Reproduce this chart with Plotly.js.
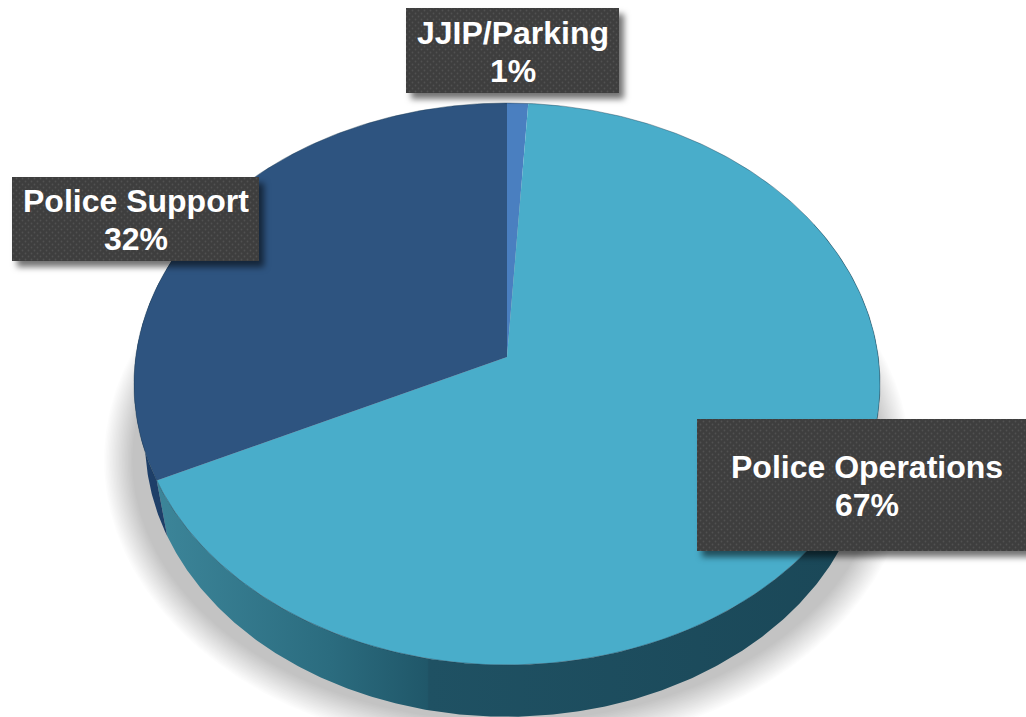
<!DOCTYPE html>
<html>
<head>
<meta charset="utf-8">
<script src="https://cdn.plot.ly/plotly-3.0.1.min.js"></script>
<style>
  html, body { margin: 0; padding: 0; background: #fff; overflow: hidden; }
  #chart { width: 1026px; height: 717px; }
  #defs { position: absolute; width: 0; height: 0; }
  /* dotted callout boxes with a drop shadow */
  .shapelayer path[data-index="0"],
  .shapelayer path[data-index="1"],
  .shapelayer path[data-index="2"] {
    fill: url(#dots) !important;
    filter: drop-shadow(5px 6px 3px rgba(0,0,0,0.55));
  }
</style>
</head>
<body>
<svg id="defs"><defs>
  <pattern id="dots" width="6" height="6" patternUnits="userSpaceOnUse">
    <rect width="6" height="6" fill="#3e3e3e"></rect>
    <circle cx="1.5" cy="1.5" r="0.9" fill="#515151"></circle>
    <circle cx="4.5" cy="4.5" r="0.9" fill="#515151"></circle>
  </pattern>
</defs></svg>
<div id="chart"></div>
<script>
// Budget shares, clockwise from twelve o'clock
const categories = ['JJIP/Parking', 'Police Operations', 'Police Support'];
const shares = [1, 67, 32];
const faceColors = ['#4a7fc0', '#49adca', '#2e5480'];

// Pie geometry in screen units: perspective projection of a tilted disc
const W = 1026, H = 717;
const top_ = { cx: 507, cy: 357, q: 371.3, p: 278.4, k: 0.096 };
const bottom = { cx: 507, cy: 415, q: 360.2, p: 272.8, k: 0.096 };

function project(disc, deg) {
  const t = deg * Math.PI / 180;
  const u = Math.sin(t), v = Math.cos(t), d = 1 + disc.k * v;
  return [disc.cx + disc.q * u / d, disc.cy - disc.p * v / d];
}
function arc(disc, from, to) {
  const n = Math.max(2, Math.ceil(Math.abs(to - from) * 2)), pts = [];
  for (let i = 0; i <= n; i++) pts.push(project(disc, from + (to - from) * i / n));
  return pts;
}
function outline(pts, style) {
  return Object.assign({
    type: 'scatter', mode: 'lines', hoverinfo: 'skip', showlegend: false,
    x: pts.map(p => p[0]), y: pts.map(p => p[1]), line: { width: 0 }
  }, style);
}

const total = shares.reduce((a, b) => a + b, 0);
const starts = [];
let running = 0;
shares.forEach(s => { starts.push(running / total * 360); running += s; });
const opsEnd = starts[2];

const traces = [];

// Floor shadow: stacked translucent ellipses give the soft falloff
const shadowLayers = 20;
for (let i = 0; i < shadowLayers; i++) {
  const s = i / (shadowLayers - 1);
  const disc = { cx: 507, cy: 460, q: 375 + 28 * s, p: 262 + 30 * s, k: 0 };
  traces.push(outline(arc(disc, 0, 360), { fill: 'toself', fillcolor: 'rgba(0,0,0,0.0135)' }));
}

// Side wall: outer edge of the top disc, back along the lower disc
function wall(from, to, style) {
  const pts = arc(top_, from, to).concat(arc(bottom, to, from));
  pts.push(pts[0]);
  return outline(pts, Object.assign({ fill: 'toself' }, style));
}
traces.push(wall(60, opsEnd, {
  fillgradient: {
    type: 'horizontal', start: 158, stop: 880,
    colorscale: [[0, '#3c8599'], [0.238, '#2b6c7f'], [0.373, '#205769'], [0.375, '#1f5163'], [1, '#1a4757']]
  }
}));
traces.push(wall(opsEnd, 300, { fillcolor: '#1e3f68' }));

// Top face of each slice
categories.forEach((name, i) => {
  const to = starts[i] + shares[i] / total * 360;
  const pts = [[top_.cx, top_.cy]].concat(arc(top_, starts[i], to));
  pts.push(pts[0]);
  traces.push(outline(pts, {
    fill: 'toself', name: name, fillcolor: faceColors[i],
    hoverinfo: 'text', text: name + ': ' + shares[i] + '%'
  }));
});

// Fine rim line round the top face
traces.push(outline(arc(top_, 0, 360), { line: { width: 0.8, color: 'rgba(30,60,80,0.5)' } }));

// Callout boxes and their text positions
const boxes = [
  { x0: 406, x1: 619, y0: 8, y1: 93, tx: 512.5, ty: 33 },
  { x0: 697, x1: 1037, y0: 419, y1: 551, tx: 867, ty: 467 },
  { x0: 12, x1: 259, y0: 177, y1: 261, tx: 135.5, ty: 201 }
];
const shapes = boxes.map(b => ({
  type: 'rect', layer: 'above', xref: 'x', yref: 'y',
  x0: b.x0, x1: b.x1, y0: b.y0, y1: b.y1,
  fillcolor: '#3e3e3e', line: { width: 0 }
}));

const labelFont = { family: '"Liberation Sans", Arial, sans-serif', size: 32, color: '#ffffff', weight: 700 };
const annotations = [];
categories.forEach((name, i) => {
  const b = boxes[i];
  annotations.push({ xref: 'x', yref: 'y', x: b.tx, y: b.ty, text: name, showarrow: false, font: labelFont, xanchor: 'center', yanchor: 'middle' });
  annotations.push({ xref: 'x', yref: 'y', x: b.tx, y: b.ty + 38, text: shares[i] + '%', showarrow: false, font: labelFont, xanchor: 'center', yanchor: 'middle' });
});

Plotly.newPlot('chart', traces, {
  width: W, height: H,
  margin: { l: 0, r: 0, t: 0, b: 0 },
  paper_bgcolor: '#ffffff', plot_bgcolor: '#ffffff',
  xaxis: { range: [0, W], visible: false, fixedrange: true },
  yaxis: { range: [H, 0], visible: false, fixedrange: true },
  shapes: shapes,
  annotations: annotations,
  showlegend: false
}, { displayModeBar: false, staticPlot: true });
</script>
</body>
</html>
